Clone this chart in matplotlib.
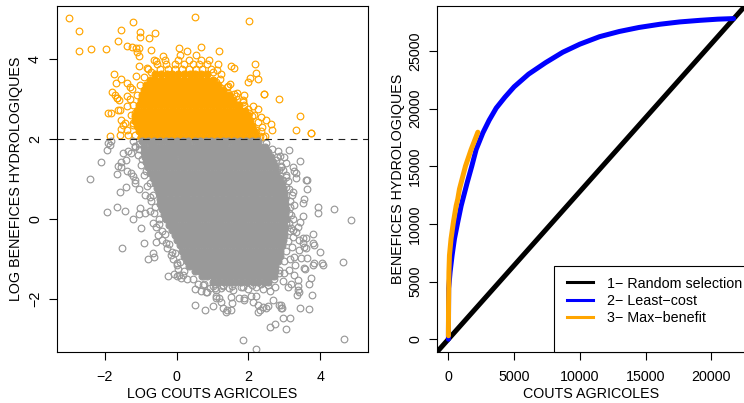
import matplotlib
matplotlib.use('Agg')
import matplotlib.pyplot as plt
from matplotlib.lines import Line2D
from matplotlib.patches import Rectangle

# ---------------- DATA ----------------
# Left panel: dense (overplotted) core of grey points (rows: y value, x values)
grey_core_y = [1.94, 1.81, 1.68, 1.55, 1.42, 1.29, 1.16, 1.03, 0.90, 0.77, 0.64, 0.51, 0.38, 0.25,
               0.12, -0.01, -0.14, -0.27, -0.40, -0.53, -0.66, -0.79, -0.92, -1.05, -1.18, -1.31, -1.44, -1.57]
grey_core_x = [
    [-0.95,-0.80,-0.62,-0.47,-0.30,-0.16,0.02,0.17,0.33,0.50,0.64,0.81,0.97,1.12,1.30,1.44,1.61,1.77,1.92,2.10,2.27],
    [-0.90,-0.72,-0.56,-0.40,-0.24,-0.08,0.09,0.25,0.40,0.57,0.73,0.88,1.05,1.21,1.36,1.53,1.69,1.85,2.01,2.17,2.33,2.45],
    [-0.92,-0.78,-0.61,-0.46,-0.29,-0.13,0.03,0.19,0.35,0.51,0.66,0.83,0.99,1.15,1.31,1.47,1.63,1.79,1.95,2.11,2.27,2.42,2.55],
    [-0.88,-0.70,-0.55,-0.38,-0.22,-0.06,0.11,0.27,0.42,0.59,0.75,0.91,1.07,1.23,1.39,1.55,1.71,1.87,2.03,2.19,2.35,2.50,2.62],
    [-0.85,-0.69,-0.52,-0.36,-0.20,-0.04,0.12,0.28,0.44,0.60,0.76,0.92,1.08,1.24,1.40,1.56,1.72,1.88,2.04,2.20,2.36,2.52,2.68],
    [-0.80,-0.63,-0.47,-0.31,-0.15,0.01,0.17,0.33,0.49,0.65,0.81,0.97,1.13,1.29,1.45,1.61,1.77,1.93,2.09,2.25,2.41,2.57,2.73],
    [-0.74,-0.58,-0.42,-0.26,-0.10,0.06,0.22,0.38,0.54,0.70,0.86,1.02,1.18,1.34,1.50,1.66,1.82,1.98,2.14,2.30,2.46,2.62,2.78],
    [-0.66,-0.50,-0.34,-0.18,-0.02,0.14,0.30,0.46,0.62,0.78,0.94,1.10,1.26,1.42,1.58,1.74,1.90,2.06,2.22,2.38,2.54,2.70,2.86],
    [-0.60,-0.44,-0.28,-0.12,0.04,0.20,0.36,0.52,0.68,0.84,1.00,1.16,1.32,1.48,1.64,1.80,1.96,2.12,2.28,2.44,2.60,2.76,2.91],
    [-0.55,-0.39,-0.23,-0.07,0.09,0.25,0.41,0.57,0.73,0.89,1.05,1.21,1.37,1.53,1.69,1.85,2.01,2.17,2.33,2.49,2.65,2.81,2.95],
    [-0.50,-0.34,-0.18,-0.02,0.14,0.30,0.46,0.62,0.78,0.94,1.10,1.26,1.42,1.58,1.74,1.90,2.06,2.22,2.38,2.54,2.70,2.86,3.00],
    [-0.47,-0.31,-0.15,0.01,0.17,0.33,0.49,0.65,0.81,0.97,1.13,1.29,1.45,1.61,1.77,1.93,2.09,2.25,2.41,2.57,2.73,2.89,3.01],
    [-0.45,-0.29,-0.13,0.03,0.19,0.35,0.51,0.67,0.83,0.99,1.15,1.31,1.47,1.63,1.79,1.95,2.11,2.27,2.43,2.59,2.75,2.91,3.03],
    [-0.40,-0.24,-0.08,0.08,0.24,0.40,0.56,0.72,0.88,1.04,1.20,1.36,1.52,1.68,1.84,2.00,2.16,2.32,2.48,2.64,2.80,2.96,3.05],
    [-0.34,-0.18,-0.02,0.14,0.30,0.46,0.62,0.78,0.94,1.10,1.26,1.42,1.58,1.74,1.90,2.06,2.22,2.38,2.54,2.70,2.86,3.02],
    [-0.30,-0.14,0.02,0.18,0.34,0.50,0.66,0.82,0.98,1.14,1.30,1.46,1.62,1.78,1.94,2.10,2.26,2.42,2.58,2.74,2.90,3.05],
    [-0.20,-0.04,0.12,0.28,0.44,0.60,0.76,0.92,1.08,1.24,1.40,1.56,1.72,1.88,2.04,2.20,2.36,2.52,2.68,2.84,3.00],
    [-0.12,0.04,0.20,0.36,0.52,0.68,0.84,1.00,1.16,1.32,1.48,1.64,1.80,1.96,2.12,2.28,2.44,2.60,2.76,2.92,3.00],
    [-0.05,0.11,0.27,0.43,0.59,0.75,0.91,1.07,1.23,1.39,1.55,1.71,1.87,2.03,2.19,2.35,2.51,2.67,2.83,2.98],
    [0.02,0.18,0.34,0.50,0.66,0.82,0.98,1.14,1.30,1.46,1.62,1.78,1.94,2.10,2.26,2.42,2.58,2.74,2.90,2.97],
    [0.10,0.26,0.42,0.58,0.74,0.90,1.06,1.22,1.38,1.54,1.70,1.86,2.02,2.18,2.34,2.50,2.66,2.82,2.93],
    [0.15,0.31,0.47,0.63,0.79,0.95,1.11,1.27,1.43,1.59,1.75,1.91,2.07,2.23,2.39,2.55,2.71,2.87],
    [0.22,0.38,0.54,0.70,0.86,1.02,1.18,1.34,1.50,1.66,1.82,1.98,2.14,2.30,2.46,2.62,2.78,2.87],
    [0.28,0.44,0.60,0.76,0.92,1.08,1.24,1.40,1.56,1.72,1.88,2.04,2.20,2.36,2.52,2.68,2.83],
    [0.35,0.51,0.67,0.83,0.99,1.15,1.31,1.47,1.63,1.79,1.95,2.11,2.27,2.43,2.59,2.75],
    [0.50,0.66,0.82,0.98,1.14,1.30,1.46,1.62,1.78,1.94,2.10,2.26,2.42,2.58,2.75],
    [0.70,0.86,1.02,1.18,1.34,1.50,1.66,1.82,1.98,2.14,2.30,2.46,2.62,2.70],
    [1.00,1.16,1.32,1.48,1.64,1.80,1.96,2.12,2.28,2.44,2.55],
]
# grey isolated points (x, y)
grey_out = [
    (-1.9,1.9),(-1.83,1.96),(-1.94,1.72),(-2.1,1.42),(-2.41,1.01),(-1.62,1.33),(-1.56,1.42),(-1.67,1.13),
    (-1.48,1.65),(-1.34,1.69),(-1.39,1.21),(-1.28,1.15),(-1.2,1.07),(-1.16,0.97),(-1.22,1.94),(-1.16,1.82),
    (-1.86,1.85),(-1.58,0.68),(-1.4,0.81),(-1.26,1.64),(-1.17,1.81),(-1.54,1.31),(-1.4,1.48),
    (-1.16,0.89),(-1.06,0.74),(-0.88,0.6),(-0.74,0.56),(-1.93,0.17),(-1.67,0.31),(-1.44,0.19),(-1.2,0.0),
    (-1.02,0.27),(-1.04,0.12),(-0.88,0.14),(-0.74,0.21),(-0.99,-0.22),(-0.91,-0.59),(-1.53,-0.73),
    (-0.65,-0.84),(-0.79,-1.01),(-0.63,-0.96),(-0.67,-0.09),(-0.56,-0.19),(-0.51,-0.4),(-0.56,-0.57),
    (-0.42,-0.53),(-0.28,-0.73),(-0.14,-0.82),(-0.09,-1.01),(0.0,-1.11),
    (-0.24,-1.44),(-0.08,-1.38),(0.13,-1.48),(0.08,-1.4),(0.02,-1.44),(0.17,-1.4),(0.5,-2.15),(0.8,-2.29),
    (0.59,-1.63),(0.73,-1.65),(0.92,-1.73),(1.1,-1.78),(1.29,-1.65),(1.47,-1.73),(1.57,-1.78),(0.84,-1.82),
    (1.1,-1.98),(1.24,-2.09),(1.4,-2.28),(1.52,-2.29),(1.01,-2.19),(0.69,-1.8),(0.83,-1.83),(0.79,-1.15),(0.0,-1.15),
    (1.75,-1.98),(1.89,-2.03),(2.07,-1.94),(2.21,-1.93),(2.26,-2.15),(2.4,-2.21),(2.49,-2.23),(2.68,-2.03),
    (2.86,-2.15),(2.94,-2.23),(1.84,-3.03),(2.21,-3.25),(2.6,-2.71),(2.75,-2.63),(2.97,-2.48),(3.05,-2.75),
    (3.17,-2.48),(3.45,-2.23),(3.68,-2.26),(3.77,-1.9),
    (3.37,-1.69),(3.4,-1.82),(3.69,-1.63),(3.74,-1.48),(3.28,-1.4),(3.14,-1.28),(3.0,-1.36),(3.58,-1.25),
    (3.83,-1.11),(4.06,-1.11),(4.0,-0.82),(3.83,-0.65),(3.81,-0.38),(3.94,0.14),(3.93,0.31),(4.39,0.25),
    (4.85,-0.03),(4.62,-1.07),(4.67,-3.0),
    (3.19,-0.23),(3.32,-0.32),(3.23,-0.44),(3.42,-0.53),(3.51,-0.61),(3.6,-0.48),(3.42,-0.78),(3.28,-0.94),
    (3.46,-0.98),(3.56,-0.69),(3.05,-0.11),(3.14,0.14),(3.28,0.35),(3.51,0.39),
    (3.62,0.98),(3.62,0.74),(3.54,0.49),(3.51,0.08),(3.44,-0.07),(3.14,-0.09),(3.81,-0.59),(3.63,-0.98),
    (3.6,-0.73),(3.51,-0.48),(3.39,-0.19),(3.23,-0.28),
    (2.91,-2.15),(2.91,-2.23),(2.31,-2.28),(2.26,-2.32),(2.54,-2.19),(2.12,-2.07),(1.89,-1.98),
    (1.38,-2.32),(1.29,-2.23),(1.55,-2.11),(1.18,-1.98),(1.1,-1.94),(1.52,-1.96),(1.06,-1.73),(1.29,-1.69),
    (3.35,-1.9),(3.37,-1.78),(3.19,-1.63),(3.37,-1.53),(3.56,-1.23),(3.79,-1.15),(4.07,-1.15),
    (3.14,1.73),(3.44,1.46),(3.23,1.31),(3.32,1.14),(3.6,0.98),(3.0,1.56),(3.05,1.39),(2.86,1.23),
    (2.95,0.98),(3.05,0.81),(3.23,0.68),(2.81,1.69),(2.88,1.57),(2.77,1.48),(3.28,1.19),(3.06,1.11),
    (3.32,1.03),(2.91,1.33),(2.97,1.22),
    (2.85,-1.35),(2.95,-1.55),(3.1,-1.7),(2.75,-1.7),(2.6,-1.8),(2.4,-1.75),(2.2,-1.7),(2.0,-1.75),(1.8,-1.7),
    (3.15,-1.0),(3.2,-0.7),(3.3,-1.15),(3.15,0.3),(3.2,0.6),(3.1,0.95),(3.25,0.0),(-0.6,0.3),(-0.65,0.6),
    (-0.75,0.9),(-0.85,1.2),(-0.95,1.5),(-1.05,1.75),(-0.5,0.0),(-0.4,-0.3),(-0.3,-0.6),(-0.15,-0.9),
    (0.05,-1.25),(0.3,-1.5),(0.5,-1.75),
    (-1.05,1.88),(-1.08,1.6),(-1.0,1.35),(-0.92,1.1),(-0.82,0.82),(-0.72,0.45),(-0.62,0.15),(-0.5,-0.12),
    (-0.32,-0.38),(-0.2,-0.62),(-0.05,-0.85),(0.1,-1.08),(0.22,-1.3),(0.45,-1.5),(0.75,-1.62),
    (1.0,-1.68),(1.25,-1.72),(1.55,-1.68),(1.85,-1.7),(2.1,-1.66),(2.35,-1.62),(2.55,-1.65),
    (2.7,-1.5),(2.85,-1.28),(2.98,-1.05),(3.05,-0.8),(3.1,-0.55),(3.15,-0.3),(3.18,0.1),(3.15,0.45),
    (3.12,0.75),(3.05,1.05),(2.92,1.3),(2.8,1.55),(2.65,1.75),(2.5,1.9),
]
# dense (overplotted) core of orange points (rows)
orange_core_y = [2.06, 2.19, 2.32, 2.45, 2.58, 2.71, 2.84, 2.97, 3.10, 3.23, 3.36, 3.49, 3.62]
orange_core_x = [
    [-1.00,-0.84,-0.68,-0.52,-0.36,-0.20,-0.04,0.12,0.28,0.44,0.60,0.76,0.92,1.08,1.24,1.40,1.56,1.72,1.88,2.04,2.20],
    [-1.05,-0.89,-0.73,-0.57,-0.41,-0.25,-0.09,0.07,0.23,0.39,0.55,0.71,0.87,1.03,1.19,1.35,1.51,1.67,1.83,1.99,2.15],
    [-1.10,-0.94,-0.78,-0.62,-0.46,-0.30,-0.14,0.02,0.18,0.34,0.50,0.66,0.82,0.98,1.14,1.30,1.46,1.62,1.78,1.94,2.10],
    [-1.15,-0.99,-0.83,-0.67,-0.51,-0.35,-0.19,-0.03,0.13,0.29,0.45,0.61,0.77,0.93,1.09,1.25,1.41,1.57,1.73,1.89,2.05],
    [-1.15,-0.99,-0.83,-0.67,-0.51,-0.35,-0.19,-0.03,0.13,0.29,0.45,0.61,0.77,0.93,1.09,1.25,1.41,1.57,1.73,1.89,2.00],
    [-1.10,-0.94,-0.78,-0.62,-0.46,-0.30,-0.14,0.02,0.18,0.34,0.50,0.66,0.82,0.98,1.14,1.30,1.46,1.62,1.78,1.90],
    [-1.05,-0.89,-0.73,-0.57,-0.41,-0.25,-0.09,0.07,0.23,0.39,0.55,0.71,0.87,1.03,1.19,1.35,1.51,1.67,1.75],
    [-1.00,-0.84,-0.68,-0.52,-0.36,-0.20,-0.04,0.12,0.28,0.44,0.60,0.76,0.92,1.08,1.24,1.40,1.56],
    [-0.95,-0.79,-0.63,-0.47,-0.31,-0.15,0.01,0.17,0.33,0.49,0.65,0.81,0.97,1.13,1.29,1.45],
    [-0.90,-0.74,-0.58,-0.42,-0.26,-0.10,0.06,0.22,0.38,0.54,0.70,0.86,1.02,1.18,1.30],
    [-0.85,-0.69,-0.53,-0.37,-0.21,-0.05,0.11,0.27,0.43,0.59,0.75,0.91,1.07,1.15],
    [-0.75,-0.59,-0.43,-0.27,-0.11,0.05,0.21,0.37,0.53,0.69,0.85,1.00],
    [-0.60,-0.44,-0.28,-0.12,0.04,0.20,0.36,0.52,0.68,0.85],
]
orange_out = [
    (-3.0,5.02),(-2.71,4.71),(-2.73,4.2),(-2.37,4.26),(-1.96,4.26),(-1.22,4.93),(-1.56,4.72),(-1.63,4.45),
    (-1.01,4.69),(-1.01,4.56),(-0.76,4.52),(-0.6,4.65),(-1.38,4.34),(-1.25,4.3),(-1.13,4.29),(-1.06,4.27),
    (-0.7,4.22),(-1.09,4.18),(0.5,5.06),(2.01,4.95),(0.06,4.27),(0.29,4.21),(0.68,4.3),(1.18,4.21),(-1.06,4.07),
    (2.19,3.88),(2.21,3.66),(1.98,3.43),(2.28,3.51),(2.44,3.12),(2.84,2.99),(3.44,2.58),(3.32,2.22),
    (3.75,2.16),(3.73,2.14),(1.52,3.83),(1.61,3.78),(1.15,3.88),(0.89,3.99),(2.04,3.53),(1.13,3.74),
    (1.25,3.63),(1.11,3.43),(1.44,3.33),(1.5,3.37),(1.24,3.28),(1.68,3.14),(1.87,3.09),(2.43,3.13),
    (2.35,2.56),(2.48,2.47),(2.62,2.38),(2.65,2.22),(2.38,2.3),(2.47,2.08),(2.31,2.08),(2.21,2.23),
    (2.1,2.57),(2.03,2.65),(2.26,2.75),(1.89,2.86),(2.12,2.82),(1.84,2.98),(1.66,3.07),(1.47,3.07),(1.43,3.15),
    (-1.74,3.63),(-1.7,3.41),(-1.56,3.51),(-1.81,3.18),(-1.72,3.1),(-1.66,3.02),(-1.61,2.98),(-1.91,2.66),
    (-1.84,2.66),(-1.58,2.73),(-1.54,2.48),(-1.44,2.39),(-1.86,2.08),(-1.58,2.1),(-1.56,2.26),(-1.39,3.41),
    (-1.3,3.31),(-1.62,2.73),(-1.48,2.36),(-1.39,2.23),(-1.34,2.11),(-1.67,3.03),(-1.39,3.07),(-1.37,2.82),
    (-1.16,2.65),(-1.2,2.4),(-1.14,3.58),(-1.06,3.83),(-0.83,3.78),(-0.56,3.95),(-0.37,4.08),(-1.25,3.25),(-1.3,3.0),
    (-0.80,3.75),(-0.45,3.75),(-0.25,3.75),(-0.05,3.75),(0.15,3.75),(0.35,3.75),(0.55,3.75),(0.70,3.75),(0.95,3.75),
    (-0.55,3.88),(-0.30,3.88),(-0.05,3.88),(0.20,3.88),(0.45,3.88),(0.62,3.88),(0.85,3.88),
    (-0.62,3.98),(-0.33,3.98),(0.05,3.98),(0.35,3.98),(0.68,3.98),(0.10,4.10),(0.55,4.10),
    (-1.15,2.1),(-1.22,2.35),(-1.28,2.6),(-1.22,2.85),(-1.1,3.1),(-1.02,3.35),(-0.9,3.55),
    (-0.7,3.68),(1.0,3.68),(1.2,3.5),(1.4,3.3),(1.6,3.12),(1.85,2.92),(2.0,2.75),(2.15,2.6),
    (2.28,2.42),(2.35,2.2),(2.4,2.05),
]
threshold = 2.0

# Right panel: cumulative curves
least_cost_x = [0, 20, 130, 280, 460, 710, 970, 1300, 1430, 1780, 2110, 2620, 3100, 3640, 4300, 5000, 6100,
                7400, 8700, 10000, 11500, 13000, 14500, 16100, 17600, 19150, 20500, 21700]
least_cost_y = [0, 4400, 5840, 7270, 8710, 10150, 11580, 13020, 13590, 15020, 16460, 17900, 19000, 20060,
                21000, 21900, 23000, 24000, 24900, 25600, 26250, 26700, 27050, 27330, 27530, 27670, 27770, 27820]
max_benefit_x = [0, 10, 40, 80, 200, 380, 590, 710, 840, 970, 1300, 1730, 2240]
max_benefit_y = [300, 2900, 5840, 7270, 8710, 10150, 11580, 12150, 13020, 13590, 15020, 16460, 17960]
total_cost = 21700
total_benefit = 27800

legend_labels = ["1\u2212 Random selection", "2\u2212 Least\u2212cost", "3\u2212 Max\u2212benefit"]
left_xticks = [-2, 0, 2, 4]
left_yticks = [-2, 0, 2, 4]
right_xticks = [0, 5000, 10000, 15000, 20000]
right_yticks = [0, 5000, 10000, 15000, 20000, 25000]

# ---------------- FIGURE ----------------
plt.rcParams['font.family'] = ['Liberation Sans', 'DejaVu Sans']
plt.rcParams['axes.unicode_minus'] = True
FS = 10.3
GREY = '#999999'
ORANGE = '#FFA500'

W, H = 744, 403
fig = plt.figure(figsize=(W / 100, H / 100), dpi=100)


def pos(l, t, r, b):
    return [l / W, 1 - b / H, (r - l) / W, (b - t) / H]


ax1 = fig.add_axes(pos(57, 6, 368, 352))
ax2 = fig.add_axes(pos(437, 6, 745, 352))


def rows_to_xy(ys, xss):
    xo, yo = [], []
    for yv, xs in zip(ys, xss):
        xo += xs
        yo += [yv] * len(xs)
    return xo, yo


gcx, gcy = rows_to_xy(grey_core_y, grey_core_x)
ocx, ocy = rows_to_xy(orange_core_y, orange_core_x)

open_mk = dict(marker='o', ls='none', mfc='none', ms=4.8, mew=0.85)
core_mk = dict(marker='o', ls='none', ms=5.0, mew=0.8)
ax1.plot(ocx, ocy, mec=ORANGE, mfc=ORANGE, **core_mk)
ax1.plot([p[0] for p in orange_out], [p[1] for p in orange_out], mec=ORANGE, **open_mk)
ax1.plot(gcx, gcy, mec=GREY, mfc=GREY, **core_mk)
ax1.plot([p[0] for p in grey_out], [p[1] for p in grey_out], mec=GREY, **open_mk)
ax1.axhline(threshold, color='#222222', lw=0.8, ls=(0, (6, 5)))
ax1.set_xlim(-3.33, 5.33)
ax1.set_ylim(-3.33, 5.33)
ax1.set_xticks(left_xticks)
ax1.set_yticks(left_yticks)
ax1.set_xlabel('LOG COUTS AGRICOLES', fontsize=FS)
ax1.set_ylabel('LOG BENEFICES HYDROLOGIQUES', fontsize=FS)

# right panel
ax2.axline((0, 0), slope=total_benefit / total_cost, color='black', lw=3.6, solid_capstyle='round')
ax2.plot(least_cost_x, least_cost_y, color='blue', lw=3.6, solid_capstyle='round', solid_joinstyle='round')
ax2.plot(max_benefit_x, max_benefit_y, color=ORANGE, lw=3.6, solid_capstyle='round', solid_joinstyle='round')
ax2.set_xlim(-0.04 * total_cost, 1.04 * total_cost)
ax2.set_ylim(-0.04 * total_benefit, 1.04 * total_benefit)
ax2.set_xticks(right_xticks)
ax2.set_yticks(right_yticks)
ax2.set_xlabel('COUTS AGRICOLES', fontsize=FS)
ax2.set_ylabel('BENEFICES HYDROLOGIQUES', fontsize=FS)

for ax in (ax1, ax2):
    for s in ax.spines.values():
        s.set_linewidth(0.8)
        s.set_zorder(5)
    ax.tick_params(direction='out', length=5.8, width=0.8, labelsize=FS, colors='black')
    ax.tick_params(axis='x', pad=7.2)
    ax.tick_params(axis='y', pad=5.0, labelrotation=90)
    for lab in ax.get_yticklabels():
        lab.set_va('center')

ax1.xaxis.set_label_coords(0.5, (352 - 387.3) / 346, transform=ax1.transAxes)
ax1.yaxis.set_label_coords((23 - 57) / 311, 0.5, transform=ax1.transAxes)
ax2.xaxis.set_label_coords(0.5, (352 - 387.3) / 346, transform=ax2.transAxes)
ax2.yaxis.set_label_coords((404.7 - 437) / 308, 0.5, transform=ax2.transAxes)

# legend box
x0 = (554 - 437) / 308
ax2.add_patch(Rectangle((x0, 0), 1.2, (352 - 266) / 346, transform=ax2.transAxes,
                        facecolor='white', edgecolor='black', lw=0.8, zorder=6, clip_on=False))
handles = [Line2D([], [], color=c, lw=2.2) for c in ('black', 'blue', ORANGE)]
leg = ax2.legend(handles, legend_labels, loc='upper left',
                 bbox_to_anchor=((567 - 437) / 308, (352 - 276.5) / 346),
                 frameon=False, fontsize=FS, borderpad=0, borderaxespad=0,
                 handlelength=1.82, handletextpad=0.98, labelspacing=0.24)
leg.set_zorder(7)

fig.savefig('out.png', dpi=100)
